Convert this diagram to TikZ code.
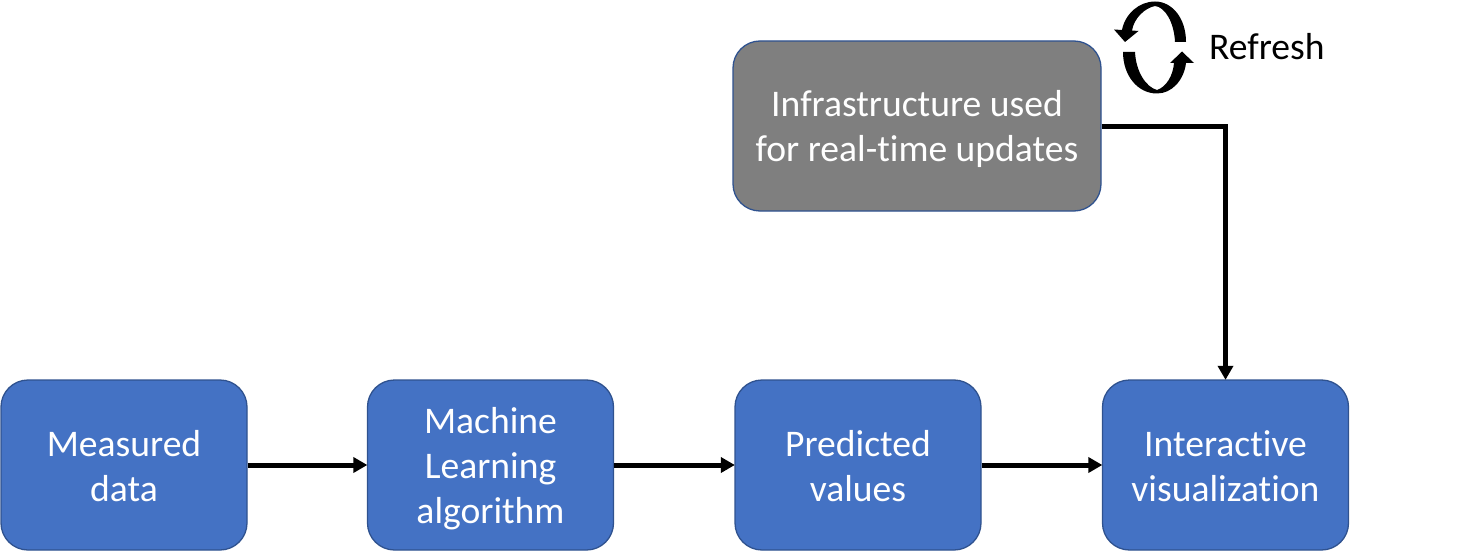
\documentclass[tikz,border=0pt]{standalone}
\usepackage{fontspec}
\setmainfont[RawFeature={-liga}]{Carlito}
\usetikzlibrary{arrows.meta,calc}
\definecolor{boxblue}{HTML}{4472C4}
\definecolor{boxedge}{HTML}{2F528F}
\definecolor{boxgrey}{HTML}{7F7F7F}
\tikzset{
  x=1pt,y=-1pt,
  blockbox/.style={draw=boxedge,line width=1.3pt,fill=boxblue,rounded corners=27pt,minimum width=246pt,minimum height=170pt,inner sep=0pt,text=white,align=center,font=\fontsize{37.6}{45}\selectfont},
  greybox/.style={blockbox,fill=boxgrey,minimum width=368pt},
  flow/.style={draw=black,line width=5pt,-{Triangle[length=14pt,width=15pt]},shorten >=-0.5pt},
}
\begin{document}
\begin{tikzpicture}
\useasboundingbox (0,0) rectangle (1466,556);
\node[blockbox] (measured) at (124,465) {\rule{0pt}{29pt}Measured\\data};
\node[blockbox] (ml) at (490.5,465) {\rule{0pt}{33pt}Machine\\Learning\\algorithm};
\node[blockbox] (pred) at (858,465) {\rule{0pt}{29pt}Predicted\\values};
\node[blockbox] (vis) at (1225.5,465) {\rule{0pt}{29pt}Interactive\\visualization};
\node[greybox] (infra) at (917,126) {\rule{0pt}{33pt}Infrastructure used\\for real-time updates};
\node[font=\fontsize{37.6}{40}\selectfont,anchor=west,inner sep=0pt] (refresh) at (1209,47) {Refresh};
\draw[flow] (measured) -- (ml);
\draw[flow] (ml) -- (pred);
\draw[flow] (pred) -- (vis);
\draw[flow] (infra.east |- 0,126.5) -| (vis);
% refresh icon
\fill[black] (1186,42) -- (1175,42) .. controls (1174,22) and (1165,7) .. (1155,6)
  .. controls (1145,8) and (1134,18) .. (1132,30.5) -- (1138.5,31) -- (1125,42) -- (1114,29.5) -- (1122,30)
  .. controls (1125,14) and (1139,1.5) .. (1155,1.5) .. controls (1172,1.5) and (1186,18) .. (1186,42) -- cycle;
\fill[black] (1123,52) -- (1135,52) .. controls (1136,72) and (1146,87) .. (1157,90)
  .. controls (1166,87) and (1173,76) .. (1174,63) -- (1170,63) -- (1182,51.5) -- (1194,63) -- (1186,63)
  .. controls (1184,80) and (1172,93.5) .. (1157,93.5) .. controls (1138,93.5) and (1123,76) .. (1123,52) -- cycle;
\end{tikzpicture}
\end{document}
